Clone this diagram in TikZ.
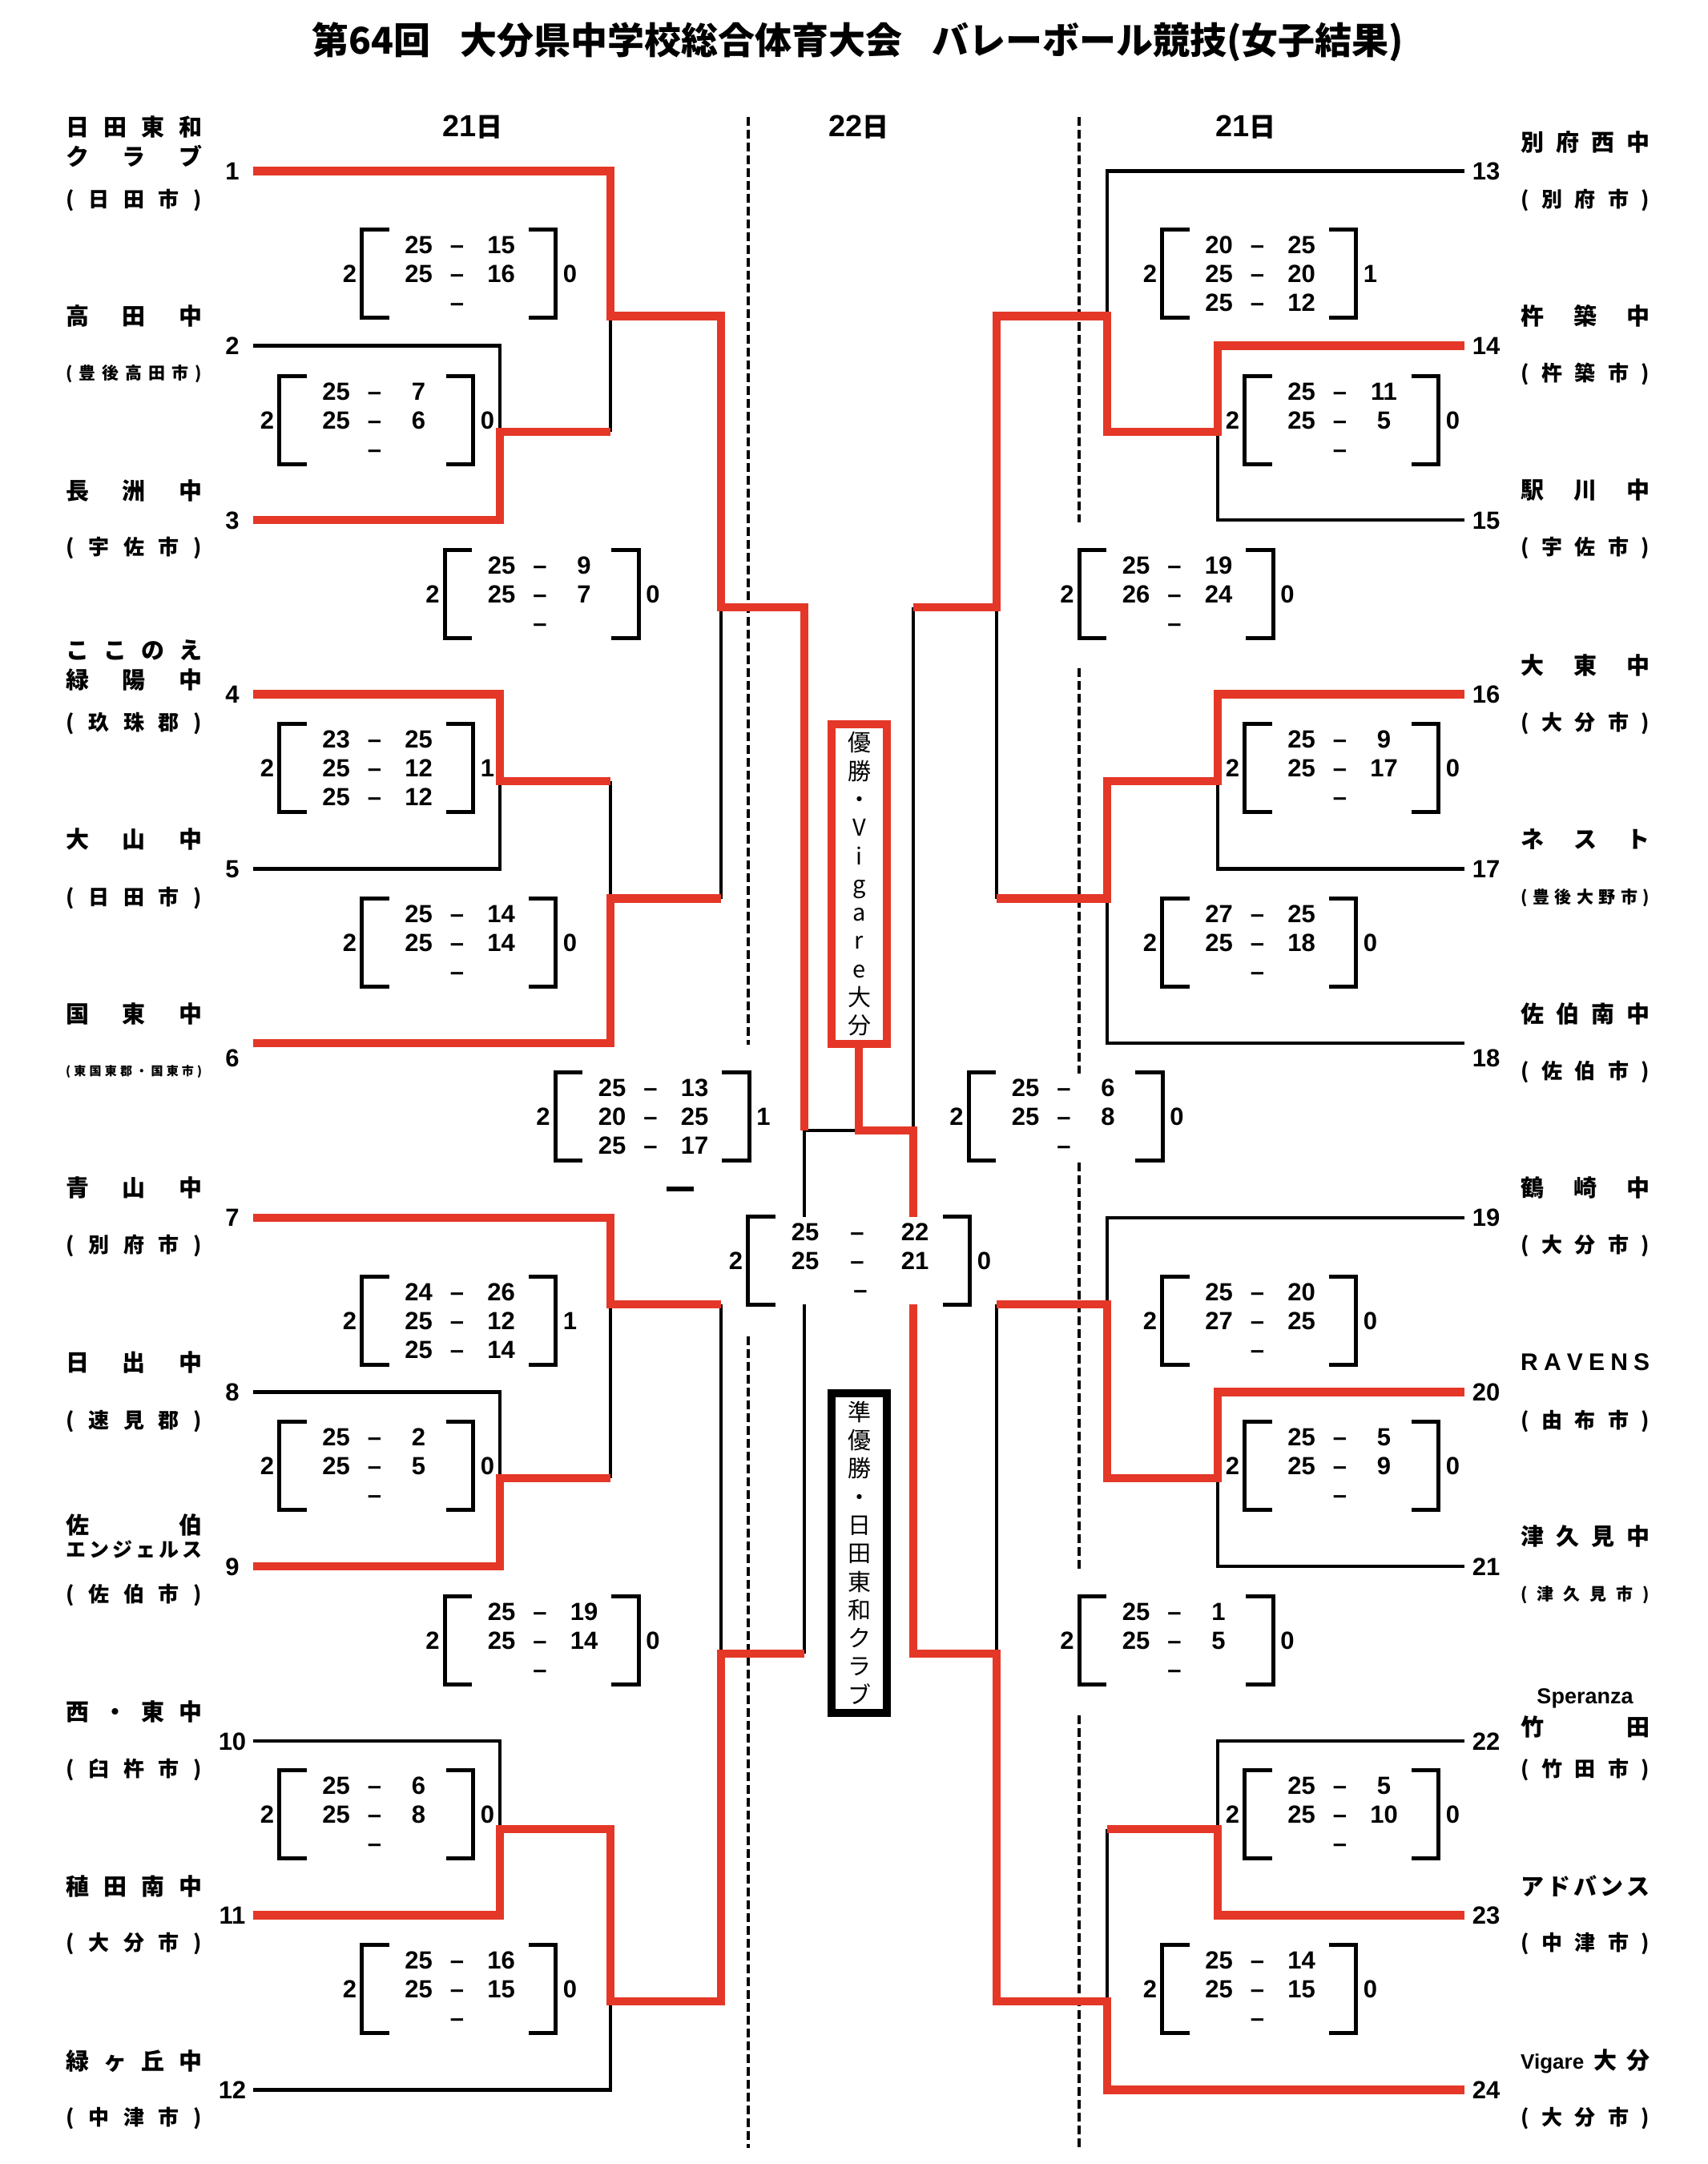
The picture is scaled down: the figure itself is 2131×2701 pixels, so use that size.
\documentclass[tikz,border=0pt]{standalone}
\usepackage{fontspec}
\newfontfamily\jp{Noto Sans CJK JP}
\newfontfamily\lat{Liberation Sans}
\definecolor{redc}{RGB}{228,55,40}
\tikzset{
 blackline/.style={line width=4.5pt, black, line join=miter},
 redline/.style={line width=10.5pt, redc, line join=miter},
 dashline/.style={line width=4pt, black, dash pattern=on 11pt off 5pt},
 brline/.style={line width=5pt, black, line join=miter},
 digit/.style={font=\lat\bfseries\fontsize{31}{31}\selectfont, inner sep=0pt, text height=22.2pt, text depth=0pt},
 nm/.style={font=\jp\bfseries\fontsize{29}{29}\selectfont, inner sep=0pt, anchor=west},
 nmk/.style={font=\jp\bfseries\fontsize{25}{25}\selectfont, inner sep=0pt, anchor=west},
 ct/.style={font=\jp\bfseries\fontsize{26}{26}\selectfont, inner sep=0pt, anchor=west},
 cts/.style={font=\jp\bfseries\fontsize{21}{21}\selectfont, inner sep=0pt, anchor=west},
 ctt/.style={font=\jp\bfseries\fontsize{15}{15}\selectfont, inner sep=0pt, anchor=west},
 hdr/.style={font=\jp\bfseries\fontsize{33}{33}\selectfont, inner sep=0pt},
 vbox/.style={line width=10pt, fill=white, minimum width=69pt, minimum height=399pt, inner sep=0pt, font=\jp\fontsize{29}{35.3}\selectfont, align=center},
}
\newcommand\SL[1]{\makebox[170pt][s]{#1}}
\newcommand\SR[1]{\makebox[161pt][s]{#1}}
\newcommand\hd[1]{{\lat\bfseries\fontsize{38}{38}\selectfont #1}日}
% score box frame: name, cx, cy, half width, left count, right count
\newcommand\frm[6]{%
 \draw[brline] ({#2-#4+34},{#3-55}) -- ({#2-#4},{#3-55}) -- ({#2-#4},{#3+55}) -- ({#2-#4+34},{#3+55});
 \draw[brline] ({#2+#4-34},{#3-55}) -- ({#2+#4},{#3-55}) -- ({#2+#4},{#3+55}) -- ({#2+#4-34},{#3+55});
 \node[digit] (#1-l) at ({#2-#4-15},#3) {#5};
 \node[digit] (#1-r) at ({#2+#4+18},#3) {#6};
}
% score row: name, cx, y, a, b, offset
\newcommand\rw[6]{%
 \node[digit] (#1-a) at ({#2-#6},#3) {#4};
 \node[digit] (#1-d) at ({#2-2},#3) {–};
 \node[digit] (#1-b) at ({#2+#6+3},#3) {#5};
}
\newcommand\dr[3]{\node[digit] (#1-d) at ({#2-2},#3) {–};}
\begin{document}
\begin{tikzpicture}[x=1pt,y=-1pt]
\fill[white] (0,0) rectangle (2131,2701);
\useasboundingbox (0,0) rectangle (2131,2701);

% title and headers
\node[font=\jp\bfseries\fontsize{46}{46}\selectfont, inner sep=0pt] (title) at (1071,52) {第64回\hspace{0.8em}大分県中学校総合体育大会\hspace{0.8em}バレーボール競技(女子結果)};
\node[hdr] (h1) at (590,159) {\hd{21}};
\node[hdr] (h2) at (1072,159) {\hd{22}};
\node[hdr] (h3) at (1555,159) {\hd{21}};

% dashed day separators
\draw[dashline] (934,146) -- (934,1304);
\draw[dashline] (934,1668) -- (934,2681);
\draw[dashline] (1347,146) -- (1347,652);
\draw[dashline] (1347,834) -- (1347,1340);
\draw[dashline] (1347,1451) -- (1347,1958);
\draw[dashline] (1347,2141) -- (1347,2681);

% winner / runner-up boxes
\node[vbox, draw=redc] (win) at (1072.5,1103.5) {優\\勝\\・\\V\\i\\g\\a\\r\\e\\大\\分};
\node[vbox, draw=black] (run) at (1072.5,1938) {準\\優\\勝\\・\\日\\田\\東\\和\\ク\\ラ\\ブ};

% team line ends
\coordinate (t1) at (316,213.6);
\coordinate (t2) at (316,431.3);
\coordinate (t3) at (316,649);
\coordinate (t4) at (316,866.7);
\coordinate (t5) at (316,1084.4);
\coordinate (t6) at (316,1302.1);
\coordinate (t7) at (316,1519.8);
\coordinate (t8) at (316,1737.5);
\coordinate (t9) at (316,1955.2);
\coordinate (t10) at (316,2172.9);
\coordinate (t11) at (316,2390.6);
\coordinate (t12) at (316,2608.3);
\coordinate (t13) at (1828,213.6);
\coordinate (t14) at (1828,431.3);
\coordinate (t15) at (1828,649);
\coordinate (t16) at (1828,866.7);
\coordinate (t17) at (1828,1084.4);
\coordinate (t18) at (1828,1302.1);
\coordinate (t19) at (1828,1519.8);
\coordinate (t20) at (1828,1737.5);
\coordinate (t21) at (1828,1955.2);
\coordinate (t22) at (1828,2172.9);
\coordinate (t23) at (1828,2390.6);
\coordinate (t24) at (1828,2608.3);

% junctions left
\coordinate (a23) at (624,539);
\coordinate (a1) at (762,394.5);
\coordinate (a45) at (624,975);
\coordinate (a6) at (762,1121.5);
\coordinate (qa) at (900,758);
\coordinate (a89) at (624,1845);
\coordinate (a7) at (762,1628);
\coordinate (a1011) at (624,2283);
\coordinate (a12) at (762,2498);
\coordinate (qb) at (900,2064);
\coordinate (sL) at (1004,1411);
\coordinate (fin) at (1072,1411);
\coordinate (ftop) at (1072,1519);
\coordinate (fbot) at (1072,1628);
% junctions right
\coordinate (b23) at (1520,539);
\coordinate (b1) at (1382,394.5);
\coordinate (b45) at (1520,975);
\coordinate (b6) at (1382,1121.5);
\coordinate (qc) at (1244,758);
\coordinate (b89) at (1520,1845);
\coordinate (b7) at (1382,1628);
\coordinate (b1011) at (1520,2283);
\coordinate (b12) at (1382,2498);
\coordinate (qd) at (1244,2064);
\coordinate (sR) at (1140,1411);

% black (losing) lines
\draw[blackline] (t2) -| (a23);
\draw[blackline] (t5) -| (a45);
\draw[blackline] (t8) -| (a89);
\draw[blackline] (t10) -| (a1011);
\draw[blackline] (t12) -| (a12);
\draw[blackline] (a1) -- (a1 |- a23);
\draw[blackline] (a45 -| a6) -- (a6);
\draw[blackline] (a7) -- (a7 |- a89);
\draw[blackline] (qa) -- (qa |- a6);
\draw[blackline] (qb |- a7) -- (qb);
\draw[blackline] (sL) -- (sL |- ftop);
\draw[blackline] (sL |- fbot) -- (sL |- qb);
\draw[blackline] (sL) -- (fin);
\draw[blackline] (t13) -| (b1);
\draw[blackline] (t15) -| (b23);
\draw[blackline] (t17) -| (b45);
\draw[blackline] (t18) -| (b6);
\draw[blackline] (t19) -| (b7);
\draw[blackline] (t21) -| (b89);
\draw[blackline] (t22) -| (b1011);
\draw[blackline] (qc) -- (qc |- b6);
\draw[blackline] (qd |- b7) -- (qd);
\draw[blackline] (b1011 -| b12) -- (b12);
\draw[blackline] (qc -| sR) -- (sR);

% red (winning) lines
\draw[redline] (t1) -| (a1) -| (qa) -| (sL);
\draw[redline] (t3) -| (a23) -- (a23 -| a1);
\draw[redline] (t4) -| (a45) -- (a45 -| a6);
\draw[redline] (t6) -| (a6) -- (a6 -| qa);
\draw[redline] (t7) -| (a7) -- (a7 -| qb);
\draw[redline] (t9) -| (a89) -- (a89 -| a7);
\draw[redline] (t11) -| (a1011) -| (a12) -| (qb) -- (qb -| sL);
\draw[redline] (t14) -| (b23) -| (b1) -| (qc) -- (qc -| sR);
\draw[redline] (t16) -| (b45) -| (b6) -- (b6 -| qc);
\draw[redline] (t20) -| (b89) -| (b7) -- (b7 -| qd);
\draw[redline] (t23) -| (b1011) -- (b1011 -| b12);
\draw[redline] (t24) -| (b12) -| (qd) -- (qd -| sR) -- (sR |- fbot);
\draw[redline] (sR |- ftop) -- (sR) -- (fin) -- (fin |- win.south);

% team numbers
\node[digit] (k1) at (290,213.6) {1};
\node[digit] (k2) at (290,431.3) {2};
\node[digit] (k3) at (290,649) {3};
\node[digit] (k4) at (290,866.7) {4};
\node[digit] (k5) at (290,1084.4) {5};
\node[digit] (k6) at (290,1320) {6};
\node[digit] (k7) at (290,1519.8) {7};
\node[digit] (k8) at (290,1737.5) {8};
\node[digit] (k9) at (290,1955.2) {9};
\node[digit] (k10) at (290,2172.9) {10};
\node[digit] (k11) at (290,2390.6) {11};
\node[digit] (k12) at (290,2608.3) {12};
\node[digit] (k13) at (1855,213.6) {13};
\node[digit] (k14) at (1855,431.3) {14};
\node[digit] (k15) at (1855,649) {15};
\node[digit] (k16) at (1855,866.7) {16};
\node[digit] (k17) at (1855,1084.4) {17};
\node[digit] (k18) at (1855,1320) {18};
\node[digit] (k19) at (1855,1519.8) {19};
\node[digit] (k20) at (1855,1737.5) {20};
\node[digit] (k21) at (1855,1955.2) {21};
\node[digit] (k22) at (1855,2172.9) {22};
\node[digit] (k23) at (1855,2390.6) {23};
\node[digit] (k24) at (1855,2608.3) {24};

% left names
\node[nm] (n1a) at (82,158.5) {\SL{日\hfill 田\hfill 東\hfill 和}};
\node[nm] (n1b) at (82,194.7) {\SL{ク\hfill ラ\hfill ブ}};
\node[ct] (c1) at (82,250) {\SL{(\hfill 日\hfill 田\hfill 市\hfill )}};
\node[nm] (n2) at (82,394.5) {\SL{高\hfill 田\hfill 中}};
\node[cts] (c2) at (82,467) {\SL{(\hfill 豊\hfill 後\hfill 高\hfill 田\hfill 市\hfill )}};
\node[nm] (n3) at (82,612) {\SL{長\hfill 洲\hfill 中}};
\node[ct] (c3) at (82,684) {\SL{(\hfill 宇\hfill 佐\hfill 市\hfill )}};
\node[nm] (n4a) at (82,812) {\SL{こ\hfill こ\hfill の\hfill え}};
\node[nm] (n4b) at (82,848.5) {\SL{緑\hfill 陽\hfill 中}};
\node[ct] (c4) at (82,903) {\SL{(\hfill 玖\hfill 珠\hfill 郡\hfill )}};
\node[nm] (n5) at (82,1047.5) {\SL{大\hfill 山\hfill 中}};
\node[ct] (c5) at (82,1121) {\SL{(\hfill 日\hfill 田\hfill 市\hfill )}};
\node[nm] (n6) at (82,1265.5) {\SL{国\hfill 東\hfill 中}};
\node[ctt] (c6) at (82,1337.5) {\SL{(\hfill 東\hfill 国\hfill 東\hfill 郡\hfill ・\hfill 国\hfill 東\hfill 市\hfill )}};
\node[nm] (n7) at (82,1482) {\SL{青\hfill 山\hfill 中}};
\node[ct] (c7) at (82,1555) {\SL{(\hfill 別\hfill 府\hfill 市\hfill )}};
\node[nm] (n8) at (82,1700.5) {\SL{日\hfill 出\hfill 中}};
\node[ct] (c8) at (82,1774) {\SL{(\hfill 速\hfill 見\hfill 郡\hfill )}};
\node[nm] (n9a) at (82,1903) {\SL{佐\hfill 伯}};
\node[nmk] (n9b) at (82,1934) {\SL{エ\hfill ン\hfill ジ\hfill ェ\hfill ル\hfill ス}};
\node[ct] (c9) at (82,1990.5) {\SL{(\hfill 佐\hfill 伯\hfill 市\hfill )}};
\node[nm] (n10) at (82,2136.5) {\SL{西\hfill ・\hfill 東\hfill 中}};
\node[ct] (c10) at (82,2209) {\SL{(\hfill 臼\hfill 杵\hfill 市\hfill )}};
\node[nm] (n11) at (82,2354) {\SL{稙\hfill 田\hfill 南\hfill 中}};
\node[ct] (c11) at (82,2426) {\SL{(\hfill 大\hfill 分\hfill 市\hfill )}};
\node[nm] (n12) at (82,2572.5) {\SL{緑\hfill ヶ\hfill 丘\hfill 中}};
\node[ct] (c12) at (82,2644) {\SL{(\hfill 中\hfill 津\hfill 市\hfill )}};

% right names
\node[nm] (n13) at (1898,177.5) {\SR{別\hfill 府\hfill 西\hfill 中}};
\node[ct] (c13) at (1898,250) {\SR{(\hfill 別\hfill 府\hfill 市\hfill )}};
\node[nm] (n14) at (1898,394.5) {\SR{杵\hfill 築\hfill 中}};
\node[ct] (c14) at (1898,467) {\SR{(\hfill 杵\hfill 築\hfill 市\hfill )}};
\node[nm] (n15) at (1898,612) {\SR{駅\hfill 川\hfill 中}};
\node[ct] (c15) at (1898,684) {\SR{(\hfill 宇\hfill 佐\hfill 市\hfill )}};
\node[nm] (n16) at (1898,830) {\SR{大\hfill 東\hfill 中}};
\node[ct] (c16) at (1898,903) {\SR{(\hfill 大\hfill 分\hfill 市\hfill )}};
\node[nm] (n17) at (1898,1047.5) {\SR{ネ\hfill ス\hfill ト}};
\node[cts] (c17) at (1898,1121) {\SR{(\hfill 豊\hfill 後\hfill 大\hfill 野\hfill 市\hfill )}};
\node[nm] (n18) at (1898,1265.5) {\SR{佐\hfill 伯\hfill 南\hfill 中}};
\node[ct] (c18) at (1898,1337.5) {\SR{(\hfill 佐\hfill 伯\hfill 市\hfill )}};
\node[nm] (n19) at (1898,1482) {\SR{鶴\hfill 崎\hfill 中}};
\node[ct] (c19) at (1898,1555) {\SR{(\hfill 大\hfill 分\hfill 市\hfill )}};
\node[nm, font=\lat\bfseries\fontsize{30}{30}\selectfont] (n20) at (1898,1700.5) {\SR{R\hfill A\hfill V\hfill E\hfill N\hfill S}};
\node[ct] (c20) at (1898,1774) {\SR{(\hfill 由\hfill 布\hfill 市\hfill )}};
\node[nm] (n21) at (1898,1918) {\SR{津\hfill 久\hfill 見\hfill 中}};
\node[cts] (c21) at (1898,1990.5) {\SR{(\hfill 津\hfill 久\hfill 見\hfill 市\hfill )}};
\node[font=\lat\bfseries\fontsize{27}{27}\selectfont, inner sep=0pt] (n22a) at (1978.5,2120) {Speranza};
\node[nm] (n22b) at (1898,2155) {\SR{竹\hfill 田}};
\node[ct] (c22) at (1898,2209) {\SR{(\hfill 竹\hfill 田\hfill 市\hfill )}};
\node[nm] (n23) at (1898,2354) {\SR{ア\hfill ド\hfill バ\hfill ン\hfill ス}};
\node[ct] (c23) at (1898,2426) {\SR{(\hfill 中\hfill 津\hfill 市\hfill )}};
\node[nm] (n24) at (1898,2572.5) {\SR{{\lat\bfseries\fontsize{26}{26}\selectfont Vigare}\hfill 大\hfill 分}};
\node[ct] (c24) at (1898,2644) {\SR{(\hfill 大\hfill 分\hfill 市\hfill )}};

% score boxes left
\frm{B1}{572.5}{341}{121}{2}{0}
\rw{B1a}{572.5}{305}{25}{15}{50}
\rw{B1b}{572.5}{341}{25}{16}{50}
\dr{B1c}{572.5}{377}

\frm{B2}{469.5}{524}{121}{2}{0}
\rw{B2a}{469.5}{488}{25}{7}{50}
\rw{B2b}{469.5}{524}{25}{6}{50}
\dr{B2c}{469.5}{560}

\frm{B3}{676}{741}{121}{2}{0}
\rw{B3a}{676}{705}{25}{9}{50}
\rw{B3b}{676}{741}{25}{7}{50}
\dr{B3c}{676}{777}

\frm{B4}{469.5}{958.5}{121}{2}{1}
\rw{B4a}{469.5}{922.5}{23}{25}{50}
\rw{B4b}{469.5}{958.5}{25}{12}{50}
\rw{B4c}{469.5}{994.5}{25}{12}{50}

\frm{B5}{572.5}{1176.5}{121}{2}{0}
\rw{B5a}{572.5}{1140.5}{25}{14}{50}
\rw{B5b}{572.5}{1176.5}{25}{14}{50}
\dr{B5c}{572.5}{1212.5}

\frm{B6}{814}{1393.5}{121}{2}{1}
\rw{B6a}{814}{1357.5}{25}{13}{50}
\rw{B6b}{814}{1393.5}{20}{25}{50}
\rw{B6c}{814}{1429.5}{25}{17}{50}
\draw[line width=5.5pt] (832,1484) -- (866,1484);

\frm{B7}{572.5}{1648}{121}{2}{1}
\rw{B7a}{572.5}{1612}{24}{26}{50}
\rw{B7b}{572.5}{1648}{25}{12}{50}
\rw{B7c}{572.5}{1684}{25}{14}{50}

\frm{B8}{469.5}{1829}{121}{2}{0}
\rw{B8a}{469.5}{1793}{25}{2}{50}
\rw{B8b}{469.5}{1829}{25}{5}{50}
\dr{B8c}{469.5}{1865}

\frm{B9}{676}{2047}{121}{2}{0}
\rw{B9a}{676}{2011}{25}{19}{50}
\rw{B9b}{676}{2047}{25}{14}{50}
\dr{B9c}{676}{2083}

\frm{B10}{469.5}{2264}{121}{2}{0}
\rw{B10a}{469.5}{2228}{25}{6}{50}
\rw{B10b}{469.5}{2264}{25}{8}{50}
\dr{B10c}{469.5}{2300}

\frm{B11}{572.5}{2482}{121}{2}{0}
\rw{B11a}{572.5}{2446}{25}{16}{50}
\rw{B11b}{572.5}{2482}{25}{15}{50}
\dr{B11c}{572.5}{2518}

% score boxes right
\frm{R1}{1571.5}{341}{121}{2}{1}
\rw{R1a}{1571.5}{305}{20}{25}{50}
\rw{R1b}{1571.5}{341}{25}{20}{50}
\rw{R1c}{1571.5}{377}{25}{12}{50}

\frm{R2}{1674.5}{524}{121}{2}{0}
\rw{R2a}{1674.5}{488}{25}{11}{50}
\rw{R2b}{1674.5}{524}{25}{5}{50}
\dr{R2c}{1674.5}{560}

\frm{R3}{1468}{741}{121}{2}{0}
\rw{R3a}{1468}{705}{25}{19}{50}
\rw{R3b}{1468}{741}{26}{24}{50}
\dr{R3c}{1468}{777}

\frm{R4}{1674.5}{958.5}{121}{2}{0}
\rw{R4a}{1674.5}{922.5}{25}{9}{50}
\rw{R4b}{1674.5}{958.5}{25}{17}{50}
\dr{R4c}{1674.5}{994.5}

\frm{R5}{1571.5}{1176.5}{121}{2}{0}
\rw{R5a}{1571.5}{1140.5}{27}{25}{50}
\rw{R5b}{1571.5}{1176.5}{25}{18}{50}
\dr{R5c}{1571.5}{1212.5}

\frm{R6}{1330}{1393.5}{121}{2}{0}
\rw{R6a}{1330}{1357.5}{25}{6}{50}
\rw{R6b}{1330}{1393.5}{25}{8}{50}
\dr{R6c}{1330}{1429.5}

\frm{R7}{1571.5}{1648}{121}{2}{0}
\rw{R7a}{1571.5}{1612}{25}{20}{50}
\rw{R7b}{1571.5}{1648}{27}{25}{50}
\dr{R7c}{1571.5}{1684}

\frm{R8}{1674.5}{1829}{121}{2}{0}
\rw{R8a}{1674.5}{1793}{25}{5}{50}
\rw{R8b}{1674.5}{1829}{25}{9}{50}
\dr{R8c}{1674.5}{1865}

\frm{R9}{1468}{2047}{121}{2}{0}
\rw{R9a}{1468}{2011}{25}{1}{50}
\rw{R9b}{1468}{2047}{25}{5}{50}
\dr{R9c}{1468}{2083}

\frm{R10}{1674.5}{2264}{121}{2}{0}
\rw{R10a}{1674.5}{2228}{25}{5}{50}
\rw{R10b}{1674.5}{2264}{25}{10}{50}
\dr{R10c}{1674.5}{2300}

\frm{R11}{1571.5}{2482}{121}{2}{0}
\rw{R11a}{1571.5}{2446}{25}{14}{50}
\rw{R11b}{1571.5}{2482}{25}{15}{50}
\dr{R11c}{1571.5}{2518}

% final
\frm{F}{1072}{1573.5}{138.5}{2}{0}
\rw{Fa}{1072}{1537.5}{25}{22}{67}
\rw{Fb}{1072}{1573.5}{25}{21}{67}
\dr{Fc}{1076}{1609.5}
\end{tikzpicture}
\end{document}
